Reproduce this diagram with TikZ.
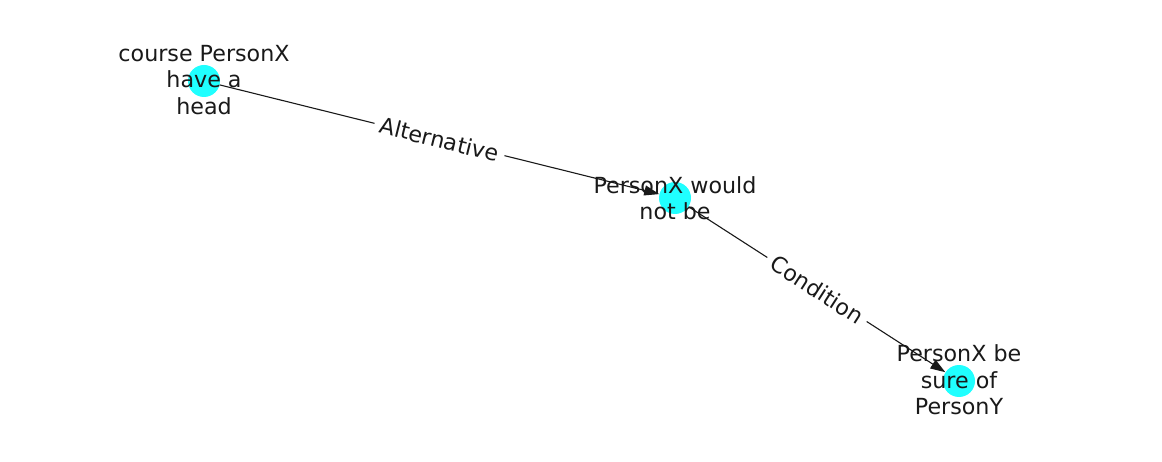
\documentclass[tikz,border=0pt]{standalone}
\usepackage{fontspec}
\setmainfont{DejaVu Sans}
\usetikzlibrary{arrows.meta}
\begin{document}
\begin{tikzpicture}[x=1pt,y=-1pt,
 dot/.style={circle,fill={rgb,255:red,32;green,255;blue,255},draw=none,minimum size=32pt,inner sep=0pt},
 txt/.style={align=center,font=\fontsize{22.2}{26.5}\selectfont,inner sep=0pt,text=black!90},
 edgeline/.style={draw=black!90,line width=1.1pt,-{Triangle[length=15pt,width=10pt]}},
 elab/.style={fill=white,inner xsep=6pt,inner ysep=3pt,font=\fontsize{22.2}{26}\selectfont,text=black!90}]
\path[use as bounding box] (0,0) rectangle (1162,462);
\node[dot] (a) at (204,81) {};
\node[dot] (b) at (675,198) {};
\node[dot] (c) at (959,381) {};
\draw[edgeline] (a) -- node[midway,sloped,elab] {Alternative} (b);
\draw[edgeline] (b) -- node[midway,sloped,elab] {Condition} (c);
\node[txt] (ta) at (204,80) {course PersonX\\have a\\head};
\node[txt] (tb) at (675,198) {PersonX would\\not be};
\node[txt] (tc) at (959,380) {PersonX be\\sure of\\PersonY};
\end{tikzpicture}
\end{document}
